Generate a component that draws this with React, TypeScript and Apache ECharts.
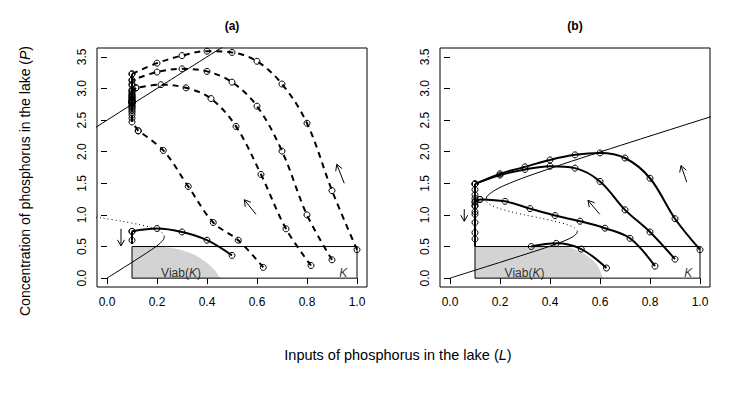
import React, { useEffect, useRef } from "react";
import * as echarts from "echarts";

// ---------- axis ticks ----------
const xTicks = [0, 0.2, 0.4, 0.6, 0.8, 1.0];
const yTicks = [0, 0.5, 1.0, 1.5, 2.0, 2.5, 3.0, 3.5];

// ---------- panel (a): equilibrium curve (L, P) ----------
const eqALower = [[0, 0], [0.08, 0.2], [0.159, 0.4], [0.196, 0.5], [0.2117, 0.55], [0.2235, 0.6], [0.2278, 0.63], [0.2292, 0.66]];
const eqAMiddle = [[0.2292, 0.66], [0.2283, 0.68], [0.2255, 0.7], [0.209, 0.75], [0.1763, 0.8], [0.1259, 0.85], [0.0591, 0.9], [-0.0188, 0.95], [-0.1, 1.0]];
const eqAUpper = [[-0.0787, 2.3], [-0.039, 2.4], [0.0007, 2.5], [0.2, 3.0], [0.48, 3.7]];

// ---------- panel (a): trajectories ----------
const trajA1 = [[1.0, 0.45], [0.9, 1.385], [0.8, 2.45], [0.7, 3.07], [0.6, 3.43], [0.5, 3.57], [0.4, 3.59], [0.3, 3.52], [0.2, 3.4], [0.1, 3.23]];
const pileA1 = [[0.1, 3.23], [0.1, 3.07], [0.1, 2.96], [0.1, 2.89], [0.1, 2.85], [0.1, 2.81], [0.1, 2.79], [0.1, 2.78], [0.1, 2.77], [0.1, 2.76]];
const trajA2 = [[0.9, 0.29], [0.8, 1.0], [0.7, 2.01], [0.6, 2.72], [0.5, 3.1], [0.4, 3.27], [0.3, 3.31], [0.2, 3.26], [0.1, 3.13]];
const pileA2 = [[0.1, 3.13], [0.1, 3.05], [0.1, 2.98], [0.1, 2.92], [0.1, 2.86], [0.1, 2.82], [0.1, 2.8], [0.1, 2.78]];
const trajA3 = [[0.816, 0.2], [0.716, 0.78], [0.616, 1.64], [0.516, 2.4], [0.416, 2.84], [0.316, 3.01], [0.216, 3.06], [0.116, 3.01]];
const pileA3 = [[0.116, 3.01], [0.1, 2.95], [0.1, 2.9], [0.1, 2.87], [0.1, 2.83], [0.1, 2.79], [0.1, 2.77]];
const trajA4 = [[0.625, 0.17], [0.525, 0.6], [0.425, 0.88], [0.325, 1.45], [0.225, 2.02], [0.125, 2.33]];
const pileA4 = [[0.125, 2.33], [0.1, 2.47], [0.1, 2.53], [0.1, 2.58], [0.1, 2.62], [0.1, 2.65], [0.1, 2.68], [0.1, 2.7], [0.1, 2.72], [0.1, 2.735]];
const trajA5 = [[0.5, 0.36], [0.4, 0.6], [0.3, 0.73], [0.2, 0.785], [0.1, 0.74]];
const pileA5 = [[0.1, 0.74], [0.1, 0.6]];
const endA5 = [0.1, 0.54];

// ---------- panel (b): equilibrium curve (L, P) ----------
const eqBLower = [[0, 0], [0.16, 0.2], [0.3193, 0.4], [0.3961, 0.5], [0.4635, 0.6], [0.4891, 0.65], [0.5055, 0.7], [0.5095, 0.74]];
const eqBMiddle = [[0.5095, 0.74], [0.509, 0.75], [0.4963, 0.8], [0.4659, 0.85], [0.4191, 0.9], [0.3612, 0.95], [0.3, 1.0], [0.2436, 1.05], [0.1981, 1.1], [0.1664, 1.15], [0.1487, 1.2], [0.1437, 1.245]];
const eqBUpper = [[0.1437, 1.245], [0.1492, 1.3], [0.1835, 1.4], [0.2376, 1.5], [0.3028, 1.6], [0.449, 1.8], [0.6039, 2.0], [0.7618, 2.2], [1.0007, 2.5], [1.2403, 2.8]];

// ---------- panel (b): trajectories ----------
const trajB1 = [[1.0, 0.45], [0.9, 0.94], [0.8, 1.58], [0.7, 1.9], [0.6, 1.98], [0.5, 1.95], [0.4, 1.87], [0.3, 1.76], [0.2, 1.65], [0.1, 1.49]];
const trajB2 = [[0.9, 0.3], [0.8, 0.73], [0.7, 1.08], [0.6, 1.53], [0.5, 1.74], [0.4, 1.77], [0.3, 1.72], [0.2, 1.63], [0.1, 1.49]];
const pileB12 = [[0.1, 1.49], [0.1, 1.4], [0.1, 1.32], [0.1, 1.26], [0.1, 1.2], [0.1, 1.14], [0.1, 1.01], [0.1, 0.72]];
const trajB3 = [[0.82, 0.19], [0.72, 0.63], [0.62, 0.79], [0.52, 0.9], [0.42, 0.99], [0.32, 1.1], [0.22, 1.215], [0.12, 1.245]];
const pileB3 = [[0.12, 1.245], [0.1, 1.21], [0.1, 1.15], [0.1, 1.05], [0.1, 0.88], [0.1, 0.62]];
const endB = [0.1, 0.5];
const trajB4 = [[0.626, 0.16], [0.525, 0.46], [0.425, 0.55], [0.325, 0.5]];

// ---------- constraint set K and viability kernels ----------
const setK = [[0.1, 0], [1.0, 0], [1.0, 0.5], [0.1, 0.5], [0.1, 0]];
const viabA = [[0.1, 0.5], [0.2, 0.5], [0.25, 0.48], [0.3, 0.44], [0.35, 0.37], [0.4, 0.24], [0.43, 0.13], [0.453, 0]];
const viabB = [[0.1, 0.5], [0.45, 0.5], [0.48, 0.48], [0.52, 0.42], [0.56, 0.32], [0.59, 0.2], [0.612, 0]];

// ---------- arrows [L0, P0, L1, P1] ----------
const arrowsA = [[0.056, 0.78, 0.056, 0.51], [0.596, 1.01, 0.549, 1.24], [0.949, 1.5, 0.919, 1.8]];
const arrowsB = [[0.057, 1.09, 0.057, 0.9], [0.599, 1.01, 0.552, 1.23], [0.947, 1.52, 0.924, 1.78]];

// ---------- text labels ----------
const viabLabelA = [0.296, 0.08];
const viabLabelB = [0.298, 0.08];
const kLabelA = [0.945, 0.08];
const kLabelB = [0.953, 0.08];

const FONT = '"Liberation Sans", Arial, Helvetica, sans-serif';

export default function App() {
  const ref = useRef<HTMLDivElement>(null);
  useEffect(() => {
    if (!ref.current) return;
    const chart = echarts.init(ref.current, null, { renderer: "svg" });

    const grids = [
      { left: 97, top: 48, width: 270, height: 239 },
      { left: 440, top: 48, width: 270, height: 239 },
    ];

    const marker = {
      symbol: "circle",
      symbolSize: 6,
      showSymbol: true,
      showAllSymbol: true,
      itemStyle: { color: "rgba(0,0,0,0)", borderColor: "#000", borderWidth: 1 },
    };

    const lineS = (g: number, data: any[], lineStyle: any, opts: any = {}) => ({
      type: "line",
      xAxisIndex: g,
      yAxisIndex: g,
      data,
      symbol: "none",
      silent: true,
      clip: true,
      lineStyle: { color: "#000", ...lineStyle },
      z: 3,
      ...opts,
    });

    const traj = (g: number, data: any[], dashed: boolean, smooth: boolean) =>
      lineS(
        g,
        data,
        { width: 2, type: dashed ? [6, 5] : "solid" },
        { ...marker, smooth: smooth ? 0.35 : false, z: 5 }
      );

    const area = (g: number, data: any[]) =>
      lineS(g, data, { width: 0, opacity: 0 }, {
        areaStyle: { color: "#d3d3d3", opacity: 1, origin: 0 },
        smooth: 0.3,
        z: 1,
      });

    const arrowSeries = (g: number, data: any[]) => ({
      type: "custom",
      xAxisIndex: g,
      yAxisIndex: g,
      data,
      silent: true,
      z: 6,
      encode: { x: [0, 2], y: [1, 3] },
      renderItem: (params: any, api: any) => {
        const p0 = api.coord([api.value(0), api.value(1)]);
        const p1 = api.coord([api.value(2), api.value(3)]);
        const ang = Math.atan2(p1[1] - p0[1], p1[0] - p0[0]);
        const len = 7;
        const a = Math.PI / 6;
        const h1 = [p1[0] - len * Math.cos(ang - a), p1[1] - len * Math.sin(ang - a)];
        const h2 = [p1[0] - len * Math.cos(ang + a), p1[1] - len * Math.sin(ang + a)];
        return {
          type: "group",
          children: [
            { type: "line", shape: { x1: p0[0], y1: p0[1], x2: p1[0], y2: p1[1] }, style: { stroke: "#000", lineWidth: 1 } },
            { type: "polyline", shape: { points: [h1, p1, h2] }, style: { stroke: "#000", fill: null, lineWidth: 1 } },
          ],
        };
      },
    });

    const textSeries = (g: number, pos: number[], text: string) => ({
      type: "scatter",
      xAxisIndex: g,
      yAxisIndex: g,
      data: [pos],
      symbolSize: 1,
      silent: true,
      itemStyle: { color: "rgba(0,0,0,0)" },
      z: 4,
      label: {
        show: true,
        position: "inside",
        formatter: text,
        color: "#000",
        fontSize: 12,
        fontFamily: FONT,
        rich: {
          n: { fontSize: 12, fontFamily: FONT, color: "#000" },
          i: { fontSize: 12, fontFamily: FONT, color: "#000", fontStyle: "italic" },
        },
      },
    });

    const xAxis = [0, 1].map((g) => ({
      gridIndex: g,
      type: "value",
      min: -0.04,
      max: 1.04,
      axisLine: { show: false },
      splitLine: { show: false },
      axisTick: { show: true, inside: false, length: 6, customValues: xTicks, lineStyle: { color: "#000", width: 1 } },
      axisLabel: {
        customValues: xTicks,
        formatter: (v: number) => v.toFixed(1),
        color: "#000",
        fontSize: 12,
        fontFamily: FONT,
        margin: 9,
      },
    }));
    const yAxis = [0, 1].map((g) => ({
      gridIndex: g,
      type: "value",
      min: -0.14,
      max: 3.64,
      axisLine: { show: false },
      splitLine: { show: false },
      axisTick: { show: true, inside: false, length: 6, customValues: yTicks, lineStyle: { color: "#000", width: 1 } },
      axisLabel: {
        customValues: yTicks,
        formatter: (v: number) => v.toFixed(1),
        color: "#000",
        fontSize: 12,
        fontFamily: FONT,
        rotate: 90,
        margin: 9,
      },
    }));

    const series: any[] = [
      // panel a
      area(0, viabA),
      lineS(0, setK, { width: 1 }, { z: 2 }),
      lineS(0, eqALower, { width: 1 }, { smooth: 0.3 }),
      lineS(0, eqAMiddle, { width: 1, type: [1, 3] }, { smooth: 0.3 }),
      lineS(0, eqAUpper, { width: 1 }, { smooth: 0.3 }),
      traj(0, trajA1, true, true),
      traj(0, pileA1, true, false),
      traj(0, trajA2, true, true),
      traj(0, pileA2, true, false),
      traj(0, trajA3, true, true),
      traj(0, pileA3, true, false),
      traj(0, trajA4, true, true),
      traj(0, pileA4, true, false),
      traj(0, trajA5, false, true),
      traj(0, pileA5, false, false),
      lineS(0, [pileA5[pileA5.length - 1], endA5], { width: 2 }, { z: 5 }),
      arrowSeries(0, arrowsA),
      textSeries(0, viabLabelA, "{n|Viab(}{i|K}{n|)}"),
      textSeries(0, kLabelA, "{i|K}"),
      // panel b
      area(1, viabB),
      lineS(1, setK, { width: 1 }, { z: 2 }),
      lineS(1, eqBLower, { width: 1 }, { smooth: 0.3 }),
      lineS(1, eqBMiddle, { width: 1, type: [1, 3] }, { smooth: 0.3 }),
      lineS(1, eqBUpper, { width: 1 }, { smooth: 0.3 }),
      traj(1, trajB1, false, true),
      traj(1, trajB2, false, true),
      traj(1, pileB12, false, false),
      lineS(1, [pileB12[pileB12.length - 1], endB], { width: 2 }, { z: 5 }),
      traj(1, trajB3, false, true),
      traj(1, pileB3, false, false),
      traj(1, trajB4, false, true),
      arrowSeries(1, arrowsB),
      textSeries(1, viabLabelB, "{n|Viab(}{i|K}{n|)}"),
      textSeries(1, kLabelB, "{i|K}"),
    ];

    chart.setOption({
      animation: false,
      backgroundColor: "#fff",
      textStyle: { fontFamily: FONT },
      grid: grids.map((g) => ({ ...g, show: true, borderColor: "#000", borderWidth: 1, backgroundColor: "transparent", containLabel: false })),
      xAxis,
      yAxis,
      series,
      graphic: [
        { type: "text", x: 232, y: 26, style: { text: "(a)", fill: "#000", font: `bold 12px ${FONT}`, textAlign: "center", textVerticalAlign: "middle" } },
        { type: "text", x: 575, y: 26, style: { text: "(b)", fill: "#000", font: `bold 12px ${FONT}`, textAlign: "center", textVerticalAlign: "middle" } },
        {
          type: "text",
          x: 398,
          y: 355,
          style: {
            text: "{n|Inputs of phosphorus in the lake (}{i|L}{n|)}",
            textAlign: "center",
            textVerticalAlign: "middle",
            rich: {
              n: { fontSize: 14.5, fontFamily: FONT, fill: "#000" },
              i: { fontSize: 14.5, fontFamily: FONT, fill: "#000", fontStyle: "italic" },
            },
          },
        },
        {
          type: "text",
          x: 25,
          y: 181,
          rotation: Math.PI / 2,
          style: {
            text: "{n|Concentration of phosphorus in the lake (}{i|P}{n|)}",
            textAlign: "center",
            textVerticalAlign: "middle",
            rich: {
              n: { fontSize: 14, fontFamily: FONT, fill: "#000" },
              i: { fontSize: 14, fontFamily: FONT, fill: "#000", fontStyle: "italic" },
            },
          },
        },
      ],
    });
    return () => chart.dispose();
  }, []);
  return <div ref={ref} style={{ position: "fixed", left: 0, top: 0, width: 735, height: 398 }} />;
}
